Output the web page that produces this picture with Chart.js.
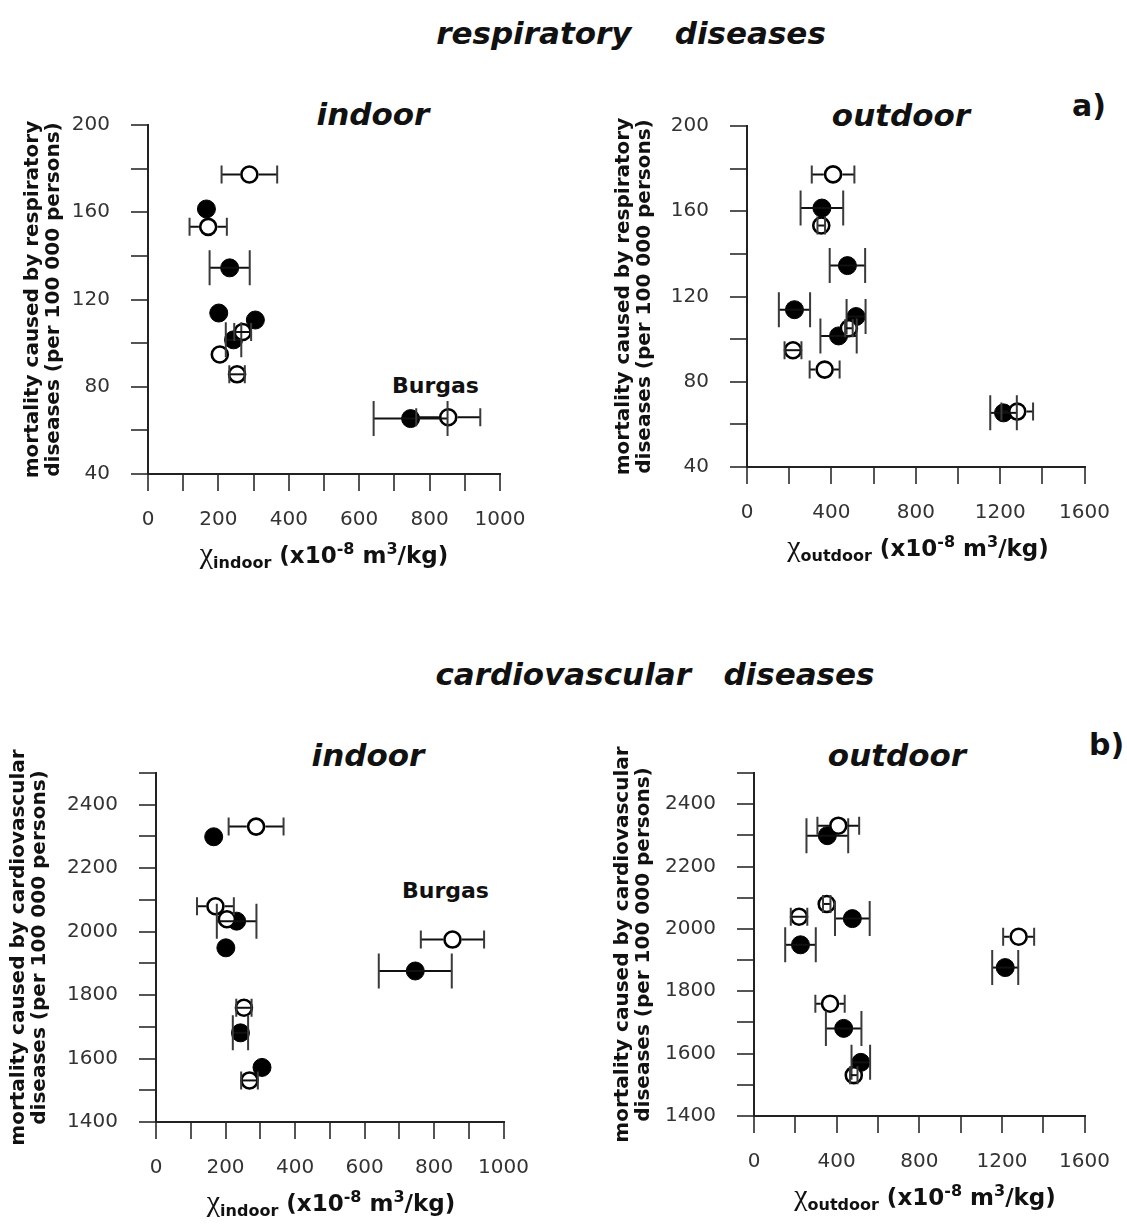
<!DOCTYPE html>
<html>
<head>
<meta charset="utf-8">
<script src="https://cdn.jsdelivr.net/npm/chart.js@4.4.1/dist/chart.umd.min.js"></script>
<style>
  html, body { margin: 0; padding: 0; background: #fff; }
  body { position: relative; width: 1127px; height: 1229px; overflow: hidden; font-family: 'DejaVu Sans', sans-serif; color: #111; }
  canvas { position: absolute; }
  .txt { position: absolute; white-space: pre; line-height: 1; color: #111; }
  .sec { font: italic bold 31px 'DejaVu Sans'; transform: translateX(-50%); }
  .pt { font: italic bold 31px 'DejaVu Sans'; transform: translateX(-50%); }
  .tag { font: bold 30px 'DejaVu Sans'; }
  .city { font: bold 22px 'DejaVu Sans'; }
  .xt { position: absolute; white-space: nowrap; transform: translateX(-50%); font: bold 23px 'DejaVu Sans'; line-height: 23px; color: #111; }
  .xt span, .xt sup { line-height: 0; }
  .chi { font: 30px 'Liberation Serif'; font-weight: normal; }
  .sub { font: bold 16px 'DejaVu Sans'; position: relative; top: 5px; }
  .xt sup { font-size: 16px; position: relative; top: -9px; vertical-align: baseline; }
</style>
</head>
<body>

<div class="txt sec" style="left:631px; top:15px;">respiratory    diseases</div>
<div class="txt sec" style="left:655px; top:656px;">cardiovascular   diseases</div>

<div class="txt pt" style="left:373px; top:96px;">indoor</div>
<div class="txt pt" style="left:901px; top:97px;">outdoor</div>
<div class="txt tag" style="left:1072px; top:88px;">a)</div>
<div class="txt pt" style="left:368px; top:737px;">indoor</div>
<div class="txt pt" style="left:897px; top:737px;">outdoor</div>
<div class="txt tag" style="left:1089px; top:727px;">b)</div>

<div class="txt city" style="left:392px; top:373px;">Burgas</div>
<div class="txt city" style="left:402px; top:878px;">Burgas</div>

<canvas id="respIndoor" width="545" height="470" style="left:0px; top:90px;"></canvas>
<canvas id="respOutdoor" width="529" height="463" style="left:598px; top:90px;"></canvas>
<canvas id="cardioIndoor" width="538" height="473" style="left:8px; top:735px;"></canvas>
<canvas id="cardioOutdoor" width="521" height="467" style="left:606px; top:735px;"></canvas>

<div class="xt" style="left:324px; top:544px;"><span class="chi">χ</span><span class="sub">indoor</span> (x10<sup>-8</sup> m<sup>3</sup>/kg)</div>
<div class="xt" style="left:918px; top:537px;"><span class="chi">χ</span><span class="sub">outdoor</span> (x10<sup>-8</sup> m<sup>3</sup>/kg)</div>
<div class="xt" style="left:331px; top:1192px;"><span class="chi">χ</span><span class="sub">indoor</span> (x10<sup>-8</sup> m<sup>3</sup>/kg)</div>
<div class="xt" style="left:925px; top:1186px;"><span class="chi">χ</span><span class="sub">outdoor</span> (x10<sup>-8</sup> m<sup>3</sup>/kg)</div>

<script>
// six towns, filled symbols (first sampling) and open symbols (second sampling)
const chiIndoorFilled = [166, 232, 201, 305, 243, 746];
const chiIndoorFilledErr = [0, 57, 0, 0, 22, 105];
const chiOutdoorFilled = [355, 476, 225, 517, 434, 1216];
const chiOutdoorFilledErr = [101, 84, 74, 45, 86, 63];
const respFilled = [161.5, 134.5, 113.8, 110.6, 101.5, 65.4];
const cardioFilled = [2299, 2033, 1949, 1572, 1681, 1876];

const chiIndoorOpen = [288, 171, 269, 204, 253, 853];
const chiIndoorOpenErr = [79, 53, 24, 0, 22, 91];
const chiOutdoorOpen = [408, 352, 483, 218, 368, 1281];
const chiOutdoorOpenErr = [101, 18, 18, 40, 71, 75];
const respOpen = [177.3, 153.3, 105.1, 94.8, 85.7, 66.0];
const cardioOpen = [2331, 2080, 1531, 2039, 1760, 1975];

const respTitle = ['mortality caused by respiratory', 'diseases (per 100 000 persons)'];
const cardioTitle = ['mortality caused by cardiovascular', 'diseases (per 100 000 persons)'];

const FONT = 'DejaVu Sans';

// horizontal error bars with end caps, the segment inside an open symbol is left out
const errorBars = {
    id: 'errorBars',
    afterDatasetsDraw(chart) {
        const { ctx } = chart;
        const xs = chart.scales.x;
        const ys = chart.scales.y;
        ctx.save();
        ctx.lineWidth = 2;
        chart.data.datasets.forEach(ds => {
            ds.data.forEach((p, j) => {
                const err = ds.xErr[j];
                if (!err) return;
                const cx = xs.getPixelForValue(p.x);
                const cy = ys.getPixelForValue(p.y);
                const x1 = xs.getPixelForValue(p.x - err);
                const x2 = xs.getPixelForValue(p.x + err);
                const r = ds.pointRadius + ds.pointBorderWidth / 2;

                ctx.strokeStyle = '#111';
                ctx.beginPath();
                if (ds.hollow && cx - x1 > r) {
                    ctx.moveTo(x1, cy); ctx.lineTo(cx - r, cy);
                    ctx.moveTo(cx + r, cy); ctx.lineTo(x2, cy);
                } else {
                    ctx.moveTo(x1, cy); ctx.lineTo(x2, cy);
                }
                ctx.stroke();

                ctx.strokeStyle = '#3a3a3a';
                ctx.beginPath();
                ctx.moveTo(x1, cy - ds.capSize); ctx.lineTo(x1, cy + ds.capSize);
                ctx.moveTo(x2, cy - ds.capSize); ctx.lineTo(x2, cy + ds.capSize);
                ctx.stroke();
            });
        });
        ctx.restore();
    }
};

function points(xs, ys) {
    return xs.map((x, i) => ({ x, y: ys[i] }));
}

function makePanel(id, cfg) {
    const axisGrid = { display: true, drawOnChartArea: false, drawTicks: true, tickLength: 17, lineWidth: 2, color: '#555' };
    const axisBorder = { display: true, color: '#222', width: 2 };
    const tickFont = { family: FONT, size: 20 };

    return new Chart(document.getElementById(id), {
        type: 'scatter',
        data: {
            datasets: [
                {
                    data: points(cfg.xFilled, cfg.yFilled),
                    xErr: cfg.errFilled,
                    capSize: 17.5,
                    hollow: false,
                    pointRadius: 9,
                    pointBorderWidth: 1,
                    pointBackgroundColor: '#000',
                    pointBorderColor: '#000',
                    order: 1
                },
                {
                    data: points(cfg.xOpen, cfg.yOpen),
                    xErr: cfg.errOpen,
                    capSize: 9,
                    hollow: true,
                    pointRadius: 8,
                    pointBorderWidth: 2.6,
                    pointBackgroundColor: '#fff',
                    pointBorderColor: '#000',
                    order: 0
                }
            ]
        },
        options: {
            responsive: false,
            animation: false,
            events: [],
            layout: { padding: { left: 0, top: cfg.padTop, right: cfg.padRight, bottom: 0 } },
            plugins: { legend: { display: false }, tooltip: { enabled: false } },
            scales: {
                x: {
                    type: 'linear',
                    min: 0,
                    max: cfg.xMax,
                    grid: axisGrid,
                    border: axisBorder,
                    ticks: {
                        stepSize: cfg.xStep,
                        autoSkip: false,
                        maxRotation: 0,
                        padding: 17,
                        color: '#333',
                        font: tickFont,
                        callback: v => (v % cfg.xLabelEvery === 0 ? String(v) : '')
                    },
                    afterFit: s => { s.height = 86; }
                },
                y: {
                    type: 'linear',
                    min: cfg.yMin,
                    max: cfg.yMax,
                    grid: axisGrid,
                    border: axisBorder,
                    ticks: {
                        stepSize: cfg.yStep,
                        autoSkip: false,
                        padding: 21,
                        color: '#333',
                        font: tickFont,
                        callback: v => ((v - cfg.yMin) % cfg.yLabelEvery === 0 && v <= cfg.yLabelMax ? String(v) : '')
                    },
                    title: {
                        display: true,
                        text: cfg.yTitle,
                        color: '#111',
                        font: { family: FONT, size: 20, weight: 'bold', lineHeight: 1.05 },
                        padding: { top: cfg.titlePad, bottom: 0 }
                    },
                    afterFit: s => { s.width = cfg.yWidth; }
                }
            }
        },
        plugins: [errorBars]
    });
}

makePanel('respIndoor', {
    xFilled: chiIndoorFilled, yFilled: respFilled, errFilled: chiIndoorFilledErr,
    xOpen: chiIndoorOpen, yOpen: respOpen, errOpen: chiIndoorOpenErr,
    xMax: 1000, xStep: 100, xLabelEvery: 200,
    yMin: 40, yMax: 200, yStep: 20, yLabelEvery: 40, yLabelMax: 200,
    yTitle: respTitle, titlePad: 22.5, yWidth: 148, padTop: 35, padRight: 45
});

makePanel('respOutdoor', {
    xFilled: chiOutdoorFilled, yFilled: respFilled, errFilled: chiOutdoorFilledErr,
    xOpen: chiOutdoorOpen, yOpen: respOpen, errOpen: chiOutdoorOpenErr,
    xMax: 1600, xStep: 200, xLabelEvery: 400,
    yMin: 40, yMax: 200, yStep: 20, yLabelEvery: 40, yLabelMax: 200,
    yTitle: respTitle, titlePad: 15.5, yWidth: 149, padTop: 36, padRight: 37
});

makePanel('cardioIndoor', {
    xFilled: chiIndoorFilled, yFilled: cardioFilled, errFilled: chiIndoorFilledErr,
    xOpen: chiIndoorOpen, yOpen: cardioOpen, errOpen: chiIndoorOpenErr,
    xMax: 1000, xStep: 100, xLabelEvery: 200,
    yMin: 1400, yMax: 2500, yStep: 100, yLabelEvery: 200, yLabelMax: 2400,
    yTitle: cardioTitle, titlePad: 0.5, yWidth: 148, padTop: 38, padRight: 40
});

makePanel('cardioOutdoor', {
    xFilled: chiOutdoorFilled, yFilled: cardioFilled, errFilled: chiOutdoorFilledErr,
    xOpen: chiOutdoorOpen, yOpen: cardioOpen, errOpen: chiOutdoorOpenErr,
    xMax: 1600, xStep: 200, xLabelEvery: 400,
    yMin: 1400, yMax: 2500, yStep: 100, yLabelEvery: 200, yLabelMax: 2400,
    yTitle: cardioTitle, titlePad: 6.5, yWidth: 148, padTop: 38, padRight: 31
});
</script>
</body>
</html>
